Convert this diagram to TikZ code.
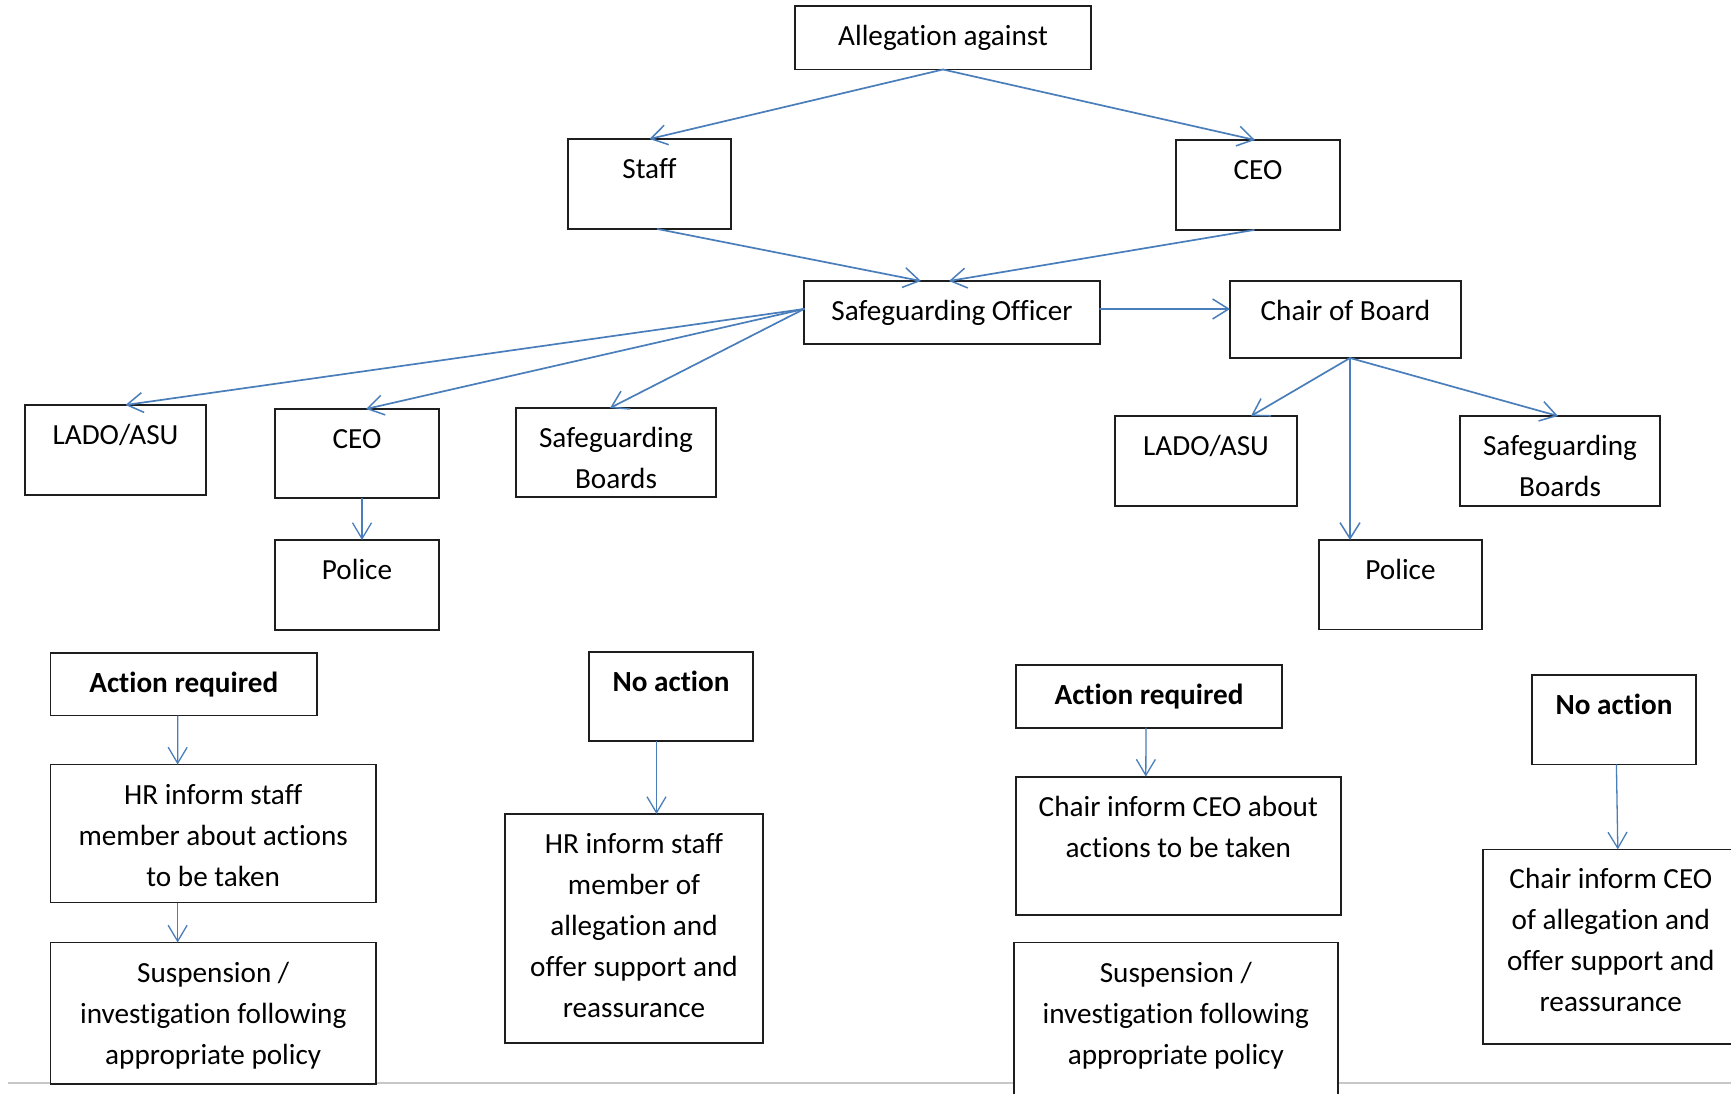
\documentclass[tikz,border=0pt]{standalone}
\usepackage{fontspec}
\setmainfont{Carlito}[Ligatures={TeX,NoCommon}]
\usetikzlibrary{arrows.meta}
\definecolor{ablue}{RGB}{74,126,187}
\definecolor{bline}{RGB}{30,30,30}
\newcommand\bxnode[6]{%
  \pgfmathsetmacro\bxw{#4-#2}\pgfmathsetmacro\bxh{#5-#3}%
  \node[boxst] (#1) at ({(#2+#4)/2},{(#3+#5)/2})
    {\parbox[c][\bxh pt][t]{\bxw pt}{\centering\rule{0pt}{39.5pt}#6\par}};}
\tikzset{
  boxst/.style={draw=bline, fill=white, line width=1.8pt, inner sep=0pt, outer sep=0pt,
    font=\fontsize{29.2pt}{41pt}\selectfont},
  arr/.style={draw=ablue, line width=1.7pt, line cap=round,
    -{Straight Barb[length=16pt,width=20pt,line width=1.5pt]}},
  sarr/.style={draw=ablue, line width=1.3pt,
    -{Straight Barb[length=16pt,width=19pt,line width=1.3pt]}}
}
\begin{document}
\begin{tikzpicture}[x=1pt,y=-1pt]
\useasboundingbox (0,0) rectangle (1731,1094);
\fill[white] (0,0) rectangle (1731,1094);
\coordinate (gl1) at (8,1083);
\coordinate (gl2) at (1731,1083);
\draw[black!22, line width=1.6pt] (gl1) -- (gl2);

\bxnode{alleg}{795}{6}{1091}{69.5}{Allegation against}
\bxnode{staff}{568}{139}{731}{229}{Staff}
\bxnode{ceoT}{1176}{140}{1340}{230}{CEO}
\bxnode{so}{804}{281}{1100}{344}{Safeguarding Officer}
\bxnode{chair}{1230}{281}{1461}{358}{Chair of Board}
\bxnode{ladoL}{25}{405}{206}{495}{LADO/ASU}
\bxnode{ceoL}{275}{409}{439}{498}{CEO}
\bxnode{sbL}{516}{408}{716}{497}{Safeguarding\\Boards}
\bxnode{policeL}{275}{540}{439}{630}{Police}
\bxnode{ladoR}{1115}{416}{1297}{506}{LADO/ASU}
\bxnode{sbR}{1460}{416}{1660}{506}{Safeguarding\\Boards}
\bxnode{policeR}{1319}{540}{1482}{629.5}{Police}
\bxnode{actL}{50.5}{653}{317}{715.5}{\bfseries Action required}
\bxnode{noL}{589}{652}{753}{741}{\bfseries No action}
\bxnode{hrL}{50.5}{764.5}{376}{902.5}{HR inform staff\\member about actions\\to be taken}
\bxnode{susL}{50.5}{942.5}{376}{1083.6}{Suspension /\\investigation following\\appropriate policy}
\bxnode{hrN}{505}{814}{763}{1043}{HR inform staff\\member of\\allegation and\\offer support and\\reassurance}
\bxnode{actR}{1016}{665}{1282}{727.6}{\bfseries Action required}
\bxnode{noR}{1532}{674.6}{1696}{764.4}{\bfseries No action}
\bxnode{chairA}{1016}{776.6}{1340.6}{914.7}{Chair inform CEO about\\actions to be taken}
\bxnode{susR}{1013.7}{942.5}{1338}{1115}{Suspension /\\investigation following\\appropriate policy}
\bxnode{chairN}{1482.6}{849.4}{1739}{1043.8}{Chair inform CEO\\of allegation and\\offer support and\\reassurance}

\draw[arr] (alleg.south) -- (staff.north);
\draw[arr] (alleg.south) -- ([xshift=-3pt]ceoT.north);
\draw[arr] ([xshift=8pt]staff.south) -- ([xshift=-31pt]so.north);
\draw[arr] ([xshift=-4pt]ceoT.south) -- ([xshift=-3pt]so.north);
\draw[arr] ([yshift=3.5pt]so.west) -- ([xshift=10pt]ladoL.north);
\draw[arr] ([yshift=3.5pt]so.west) -- ([xshift=9pt]ceoL.north);
\draw[arr] ([yshift=3.5pt]so.west) -- ([xshift=-6pt]sbL.north);
\draw[sarr] ([xshift=5pt]ceoL.south) -- ([xshift=5pt]policeL.north);
\draw[arr] ([yshift=3.5pt]so.east) -- ([yshift=10.5pt]chair.west);
\draw[arr] ([xshift=4.5pt]chair.south) -- ([xshift=45pt]ladoR.north);
\draw[arr] ([xshift=4.5pt]chair.south) -- ([xshift=-50.5pt]policeR.north);
\draw[arr] ([xshift=4.5pt]chair.south) -- ([xshift=-2pt]sbR.north);
\draw[sarr] ([xshift=-6pt]actL.south) -- ([xshift=-35.6pt]hrL.north);
\draw[sarr] ([xshift=-35.6pt]hrL.south) -- ([xshift=-35.6pt]susL.north);
\draw[sarr] ([xshift=-14.5pt]noL.south) -- ([xshift=22.5pt]hrN.north);
\draw[sarr] ([xshift=-3pt]actR.south) -- ([xshift=-32.5pt]chairA.north);
\draw[sarr] ([xshift=2.4pt]noR.south) -- ([xshift=7pt]chairN.north);
\end{tikzpicture}
\end{document}
